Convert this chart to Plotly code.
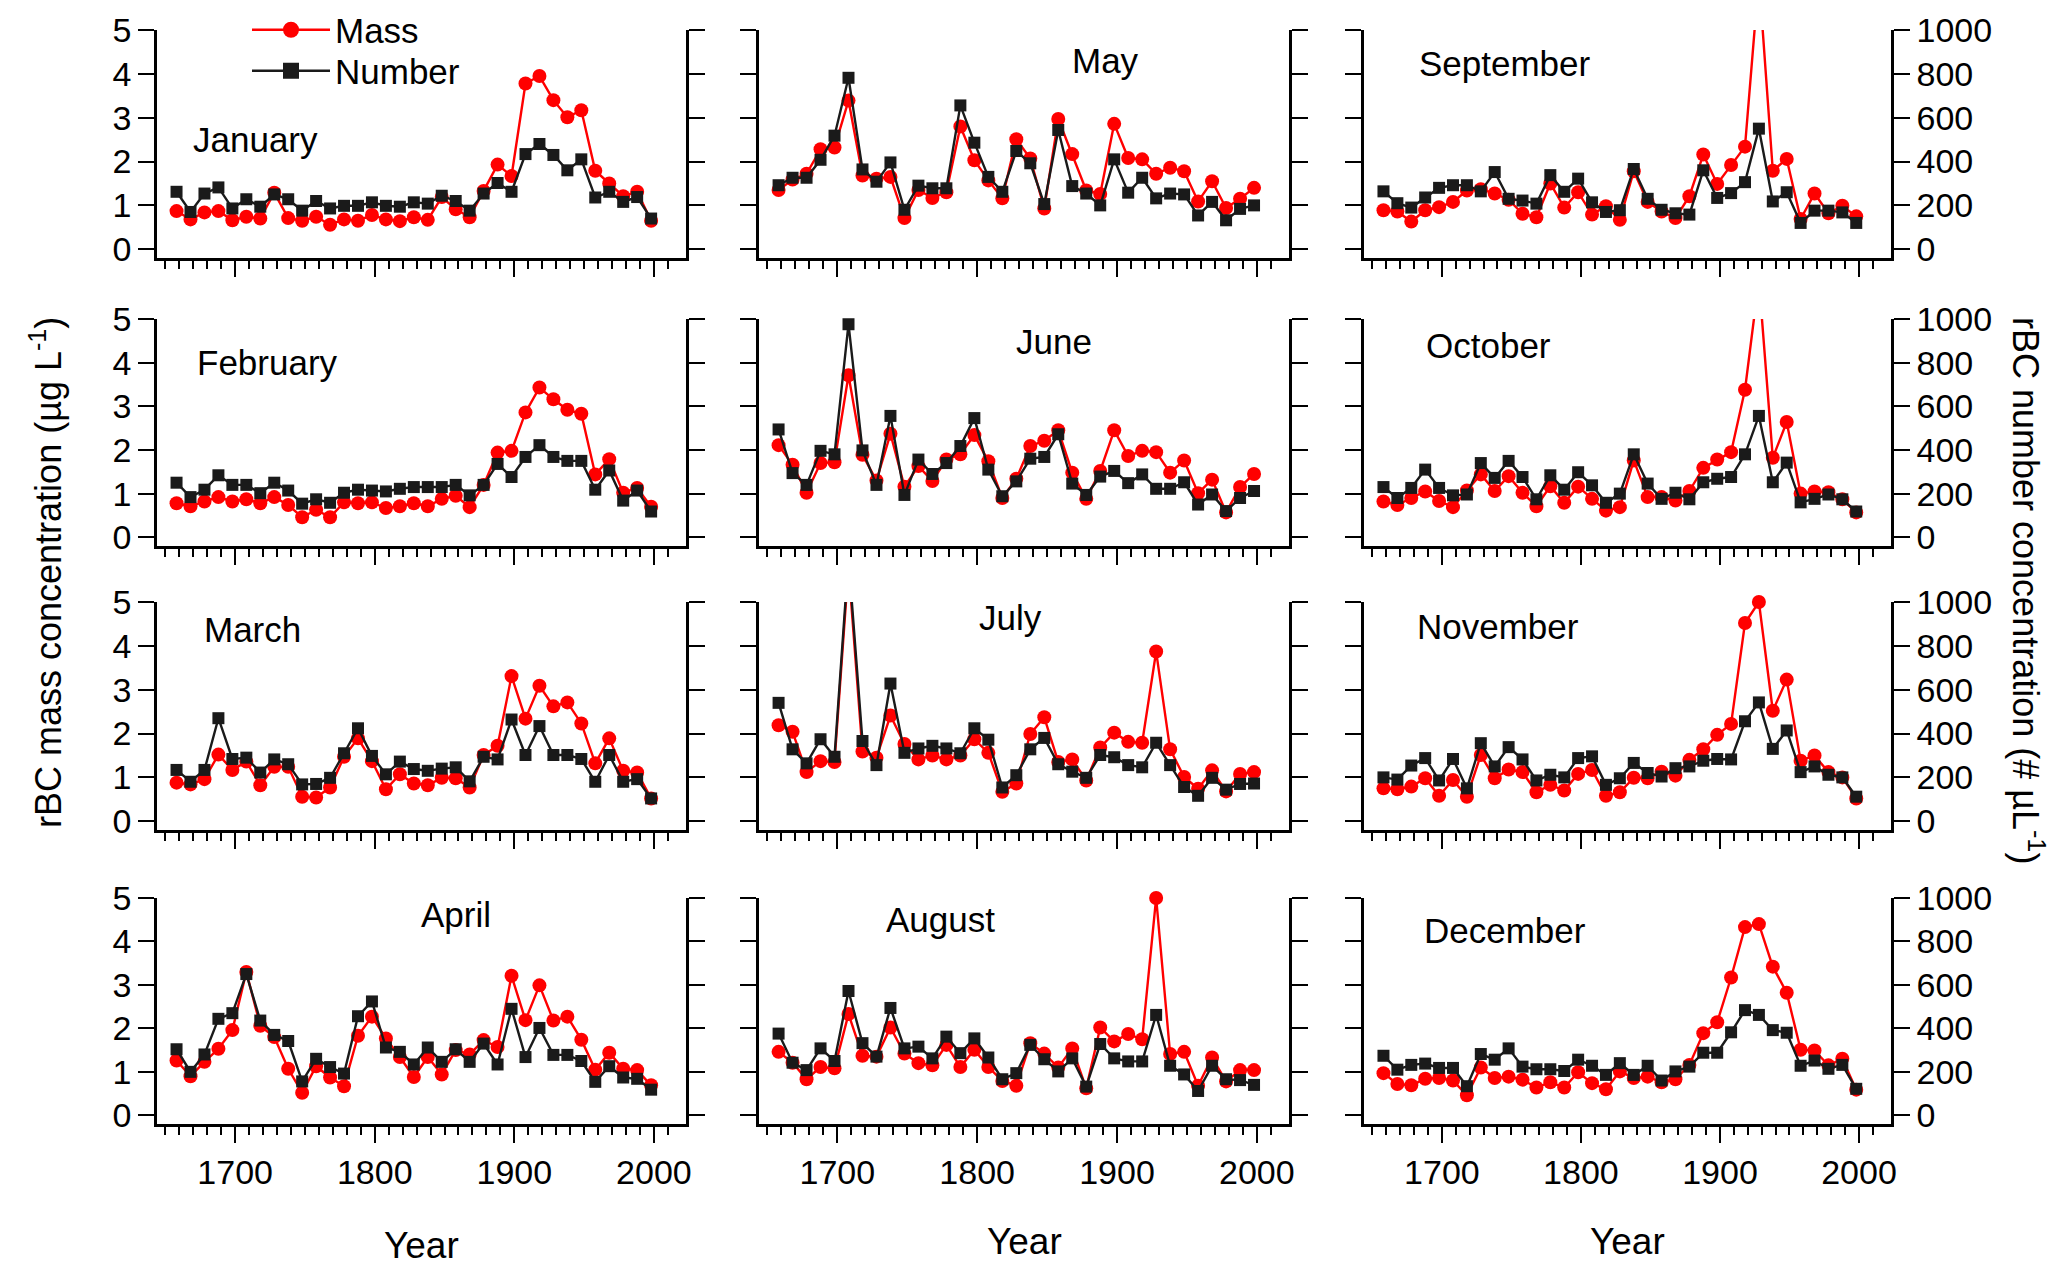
import plotly.graph_objects as go

W, H = 2067, 1272

years = [1658, 1668, 1678, 1688, 1698, 1708, 1718, 1728, 1738, 1748, 1758, 1768,
         1778, 1788, 1798, 1808, 1818, 1828, 1838, 1848, 1858, 1868, 1878, 1888,
         1898, 1908, 1918, 1928, 1938, 1948, 1958, 1968, 1978, 1988, 1998]

months = ["January", "February", "March", "April", "May", "June", "July",
          "August", "September", "October", "November", "December"]

# rBC mass concentration (ug/L)
jan_mass = [0.87,0.68,0.84,0.87,0.66,0.74,0.70,1.29,0.71,0.65,0.74,0.56,0.68,0.65,0.78,0.68,0.64,0.73,0.67,1.19,0.91,0.73,1.33,1.93,1.67,3.78,3.95,3.40,3.01,3.17,1.79,1.50,1.21,1.31,0.65]
feb_mass = [0.78,0.71,0.82,0.92,0.82,0.87,0.78,0.92,0.74,0.46,0.63,0.46,0.80,0.78,0.80,0.67,0.71,0.78,0.71,0.88,0.95,0.69,1.20,1.94,1.98,2.86,3.43,3.16,2.92,2.83,1.44,1.79,1.02,1.13,0.70]
mar_mass = [0.88,0.84,0.96,1.52,1.17,1.36,0.82,1.24,1.24,0.56,0.54,0.77,1.47,1.89,1.37,0.73,1.07,0.86,0.82,0.99,0.98,0.77,1.51,1.72,3.31,2.34,3.09,2.62,2.71,2.23,1.32,1.89,1.15,1.11,0.52]
apr_mass = [1.26,0.90,1.23,1.53,1.96,3.30,2.06,1.80,1.07,0.52,1.13,0.87,0.67,1.83,2.27,1.77,1.34,0.88,1.34,0.94,1.50,1.40,1.73,1.57,3.21,2.19,2.99,2.18,2.27,1.74,1.05,1.44,1.07,1.04,0.69]
may_mass = [1.35,1.59,1.72,2.28,2.32,3.39,1.68,1.61,1.65,0.71,1.35,1.17,1.30,2.80,2.03,1.57,1.16,2.51,2.07,0.93,2.97,2.17,1.34,1.26,2.86,2.08,2.05,1.72,1.86,1.78,1.09,1.55,0.94,1.15,1.40]
jun_mass = [2.11,1.66,1.02,1.70,1.72,3.71,1.89,1.30,2.37,1.16,1.63,1.29,1.78,1.90,2.34,1.74,0.90,1.34,2.09,2.21,2.45,1.48,0.88,1.52,2.45,1.86,1.98,1.95,1.48,1.76,1.01,1.32,0.57,1.15,1.45]
jul_mass = [2.19,2.04,1.12,1.37,1.35,5.80,1.59,1.45,2.41,1.76,1.41,1.50,1.41,1.50,1.87,1.56,0.67,0.86,1.99,2.37,1.35,1.41,0.93,1.68,2.02,1.81,1.79,3.87,1.64,1.01,0.74,1.16,0.68,1.08,1.12]
aug_mass = [1.46,1.21,0.83,1.11,1.08,2.33,1.37,1.35,2.02,1.42,1.20,1.15,1.62,1.11,1.51,1.11,0.79,0.68,1.66,1.42,1.10,1.54,0.62,2.02,1.70,1.87,1.75,5.00,1.41,1.46,0.68,1.33,0.78,1.04,1.04]
sep_mass = [0.89,0.86,0.63,0.89,0.96,1.08,1.34,1.37,1.27,1.13,0.81,0.73,1.50,0.95,1.30,0.79,0.98,0.67,1.78,1.08,0.86,0.71,1.21,2.16,1.49,1.92,2.34,6.20,1.79,2.06,0.69,1.27,0.82,0.99,0.75]
oct_mass = [0.82,0.74,0.90,1.05,0.83,0.69,1.07,1.44,1.06,1.40,1.02,0.71,1.17,0.79,1.16,0.88,0.61,0.69,1.76,0.92,0.92,0.84,1.06,1.59,1.78,1.95,3.38,5.90,1.82,2.64,1.00,1.05,1.03,0.87,0.57]
nov_mass = [0.75,0.73,0.79,0.98,0.58,0.94,0.56,1.51,0.98,1.18,1.12,0.66,0.83,0.70,1.08,1.17,0.58,0.66,0.99,0.98,1.13,1.04,1.40,1.64,1.97,2.22,4.52,5.00,2.52,3.23,1.38,1.50,1.12,1.00,0.52]
dec_mass = [0.97,0.72,0.69,0.84,0.86,0.80,0.46,1.10,0.86,0.89,0.82,0.64,0.76,0.64,0.99,0.74,0.60,1.01,0.86,0.89,0.76,0.83,1.16,1.89,2.14,3.17,4.33,4.40,3.42,2.82,1.51,1.49,1.15,1.30,0.59]

# rBC number concentration (#/uL)
jan_number = [262,170,254,282,186,228,194,250,228,176,220,186,198,198,214,198,194,214,208,244,220,176,254,302,262,434,480,430,360,410,236,262,216,238,140]
feb_number = [250,184,218,284,240,240,202,250,214,154,174,158,204,218,214,210,222,230,230,230,240,192,240,336,276,368,422,368,350,350,218,306,168,214,118]
mar_number = [234,180,234,470,284,290,222,282,260,168,170,198,310,424,298,214,272,238,230,240,246,182,294,282,464,302,434,302,302,284,180,302,180,192,104]
apr_number = [304,200,280,444,470,650,436,370,342,156,260,222,192,456,524,312,292,234,312,246,304,246,330,234,490,268,402,278,278,250,154,226,174,168,118]
may_number = [292,326,326,408,518,782,364,308,396,180,290,278,278,656,486,330,262,448,392,206,544,288,254,200,410,258,326,232,254,250,154,216,132,184,200]
jun_number = [494,294,240,396,380,976,398,240,556,194,356,290,340,418,546,310,188,256,360,368,472,246,194,278,304,248,288,222,222,252,150,196,120,180,212]
jul_number = [540,328,264,374,294,1200,366,256,628,312,332,344,332,310,424,372,154,210,328,380,260,226,198,302,292,256,246,358,256,156,116,198,144,170,172]
aug_number = [376,242,208,308,250,572,332,270,494,308,316,262,362,286,354,266,166,194,324,258,202,262,132,328,262,248,248,462,228,188,112,228,166,162,140]
sep_number = [264,210,190,236,280,292,292,264,352,230,222,208,338,262,322,214,170,178,366,230,180,164,158,360,234,256,306,550,218,260,120,176,176,168,120]
oct_number = [230,180,226,310,226,192,196,340,272,350,276,174,284,218,298,238,158,200,380,246,176,204,174,252,268,276,380,556,252,342,160,176,196,174,118]
nov_number = [200,190,254,288,186,284,150,356,250,338,282,186,212,200,288,296,166,196,266,220,204,242,250,276,284,282,456,542,330,414,224,250,212,200,112]
dec_number = [274,210,232,238,218,218,134,282,256,308,224,212,212,204,256,228,186,240,186,228,160,202,224,288,288,382,484,462,392,380,228,252,214,232,122]

mass_series = [jan_mass, feb_mass, mar_mass, apr_mass, may_mass, jun_mass,
               jul_mass, aug_mass, sep_mass, oct_mass, nov_mass, dec_mass]
number_series = [jan_number, feb_number, mar_number, apr_number, may_number, jun_number,
                 jul_number, aug_number, sep_number, oct_number, nov_number, dec_number]

mass_ticks = [0, 1, 2, 3, 4, 5]
number_ticks = [0, 200, 400, 600, 800, 1000]
year_ticks = [1700, 1800, 1900, 2000]
year_minor = list(range(1650, 2011, 10))


def px(p):
    return p / W


def py(p):
    return 1 - p / H


# ---- layout geometry (screen pixels) ----
col_px = [(157, 686), (759, 1289), (1364, 1891)]
row_px = [(30, 258), (319, 546), (602, 830), (898, 1124)]
label_px = [(255, 140), (267, 362), (252, 629), (456, 914),
            (1105, 61), (1054, 341), (1010, 617), (940, 920),
            (1505, 64), (1488, 345), (1498, 626), (1505, 930)]

FONT = "Arial, Liberation Sans, sans-serif"
RED = "#ff0000"
BLK = "#1a1a1a"
AX_W = 2.5
TICK_FS = 34

fig = go.Figure()
layout = dict(
    template="none",
    width=W, height=H, autosize=False,
    margin=dict(l=0, r=0, t=0, b=0, pad=0),
    paper_bgcolor="white", plot_bgcolor="rgba(0,0,0,0)",
    font=dict(family=FONT, size=TICK_FS, color="black"),
    showlegend=True,
    legend=dict(x=px(247), y=py(30), xanchor="left", yanchor="middle",
                font=dict(size=35, family=FONT), bgcolor="rgba(0,0,0,0)",
                itemwidth=78, borderwidth=0),
    legend2=dict(x=px(247), y=py(71), xanchor="left", yanchor="middle",
                 font=dict(size=35, family=FONT), bgcolor="rgba(0,0,0,0)",
                 itemwidth=78, borderwidth=0),
    annotations=[],
)

for i in range(12):
    c, r = divmod(i, 4)
    xl, xr = col_px[c]
    yt, yb = row_px[r]
    xn = i + 1
    ym = 2 * i + 1
    yn = 2 * i + 2
    xid = "x" if xn == 1 else f"x{xn}"
    ymid = "y" if ym == 1 else f"y{ym}"
    ynid = f"y{yn}"
    xkey = "xaxis" if xn == 1 else f"xaxis{xn}"
    ymkey = "yaxis" if ym == 1 else f"yaxis{ym}"
    ynkey = f"yaxis{yn}"

    layout[xkey] = dict(
        domain=[px(xl), px(xr)], anchor=ymid, range=[1644, 2023], automargin=False,
        showline=True, linewidth=AX_W, linecolor="black", mirror=False,
        ticks="outside", tickvals=year_ticks, ticklen=16, tickwidth=2, tickcolor="black",
        showticklabels=(r == 3), tickfont=dict(size=TICK_FS),
        minor=dict(ticks="outside", tickvals=year_minor, ticklen=8, tickwidth=2, tickcolor="black"),
        showgrid=False, zeroline=False, fixedrange=True,
    )
    layout[ymkey] = dict(
        domain=[py(yb), py(yt)], anchor=xid, range=[-0.2, 5], automargin=False,
        showline=True, linewidth=AX_W, linecolor="black",
        ticks="outside", tickvals=mass_ticks, ticklen=16, tickwidth=2, tickcolor="black",
        showticklabels=(c == 0), tickfont=dict(size=TICK_FS),
        showgrid=False, zeroline=False, fixedrange=True,
    )
    layout[ynkey] = dict(
        overlaying=ymid, anchor=xid, side="right", range=[-40, 1000], automargin=False,
        showline=True, linewidth=AX_W, linecolor="black",
        ticks="outside", tickvals=number_ticks, ticklen=16, tickwidth=2, tickcolor="black",
        showticklabels=(c == 2), tickfont=dict(size=TICK_FS),
        showgrid=False, zeroline=False, fixedrange=True,
    )

    mass = mass_series[i]
    num = number_series[i]
    fig.add_trace(go.Scatter(
        x=years, y=mass, xaxis=xid, yaxis=ymid, mode="lines+markers", name="Mass",
        line=dict(color=RED, width=2.4),
        marker=dict(symbol="circle", color=RED, opacity=1, line=dict(width=0),
                    size=[14 if v <= 5.05 else 0 for v in mass]),
        cliponaxis=False, showlegend=False,
    ))
    fig.add_trace(go.Scatter(
        x=years, y=num, xaxis=xid, yaxis=ynid, mode="lines+markers", name="Number",
        line=dict(color=BLK, width=2.4),
        marker=dict(symbol="square", color=BLK, opacity=1, line=dict(width=0),
                    size=[12 if v <= 1010 else 0 for v in num]),
        cliponaxis=False, showlegend=False,
    ))

    lx, ly = label_px[i]
    layout["annotations"].append(dict(
        x=px(lx), y=py(ly), xref="paper", yref="paper", text=months[i],
        showarrow=False, xanchor="center", yanchor="middle", font=dict(size=35, color="black"),
    ))

# legend entries (empty traces, legend only)
fig.add_trace(go.Scatter(
    x=[None], y=[None], xaxis="x", yaxis="y", mode="lines+markers", name="Mass",
    line=dict(color=RED, width=2.6), marker=dict(symbol="circle", color=RED, size=22, opacity=1),
    legend="legend", showlegend=True))
fig.add_trace(go.Scatter(
    x=[None], y=[None], xaxis="x", yaxis="y", mode="lines+markers", name="Number",
    line=dict(color=BLK, width=2.6), marker=dict(symbol="square", color=BLK, size=20, opacity=1),
    legend="legend2", showlegend=True))

# axis titles
layout["annotations"].append(dict(
    x=px(46), y=py(573), xref="paper", yref="paper",
    text="rBC mass concentration (µg L<sup>-1</sup>)", textangle=-90,
    showarrow=False, xanchor="center", yanchor="middle", font=dict(size=36)))
layout["annotations"].append(dict(
    x=px(2028), y=py(590), xref="paper", yref="paper",
    text="rBC number concentration (# µL<sup>-1</sup>)", textangle=90,
    showarrow=False, xanchor="center", yanchor="middle", font=dict(size=36)))
for (xl, xr), yy in zip(col_px, [1245, 1241, 1241]):
    layout["annotations"].append(dict(
        x=px((xl + xr) / 2), y=py(yy), xref="paper", yref="paper", text="Year",
        showarrow=False, xanchor="center", yanchor="middle", font=dict(size=37)))

fig.update_layout(**layout)
fig.write_html(
    "out.html",
    config={"displayModeBar": False, "staticPlot": False},
    post_script="document.body.style.margin='0';document.body.style.overflow='hidden';",
)
